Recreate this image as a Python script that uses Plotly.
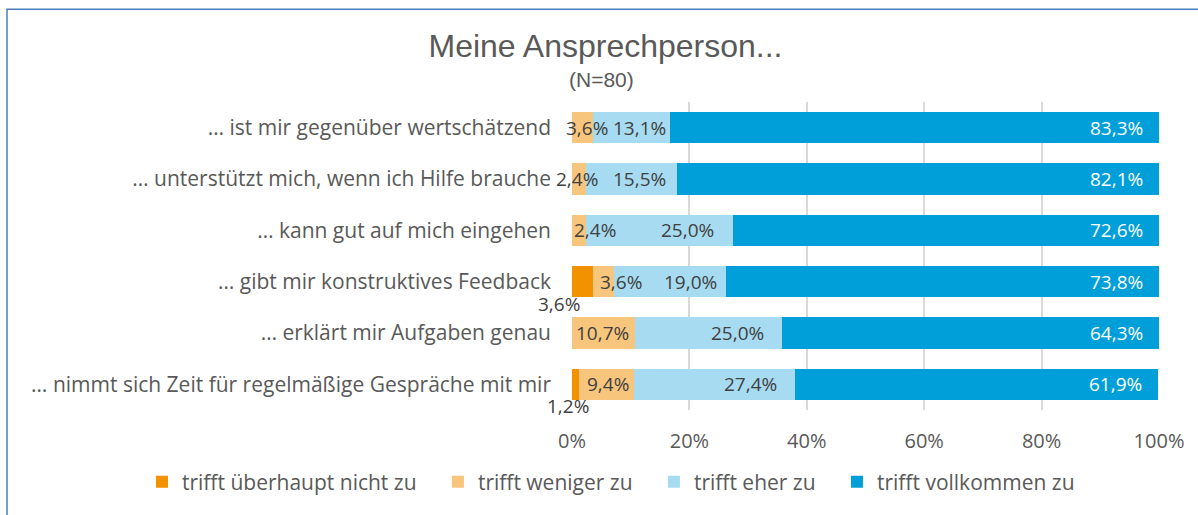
import numpy as np
import plotly.graph_objects as go

# ---------------- data ----------------
categories = [
    "… ist mir gegenüber wertschätzend",
    "… unterstützt mich, wenn ich Hilfe brauche",
    "… kann gut auf mich eingehen",
    "… gibt mir konstruktives Feedback",
    "… erklärt mir Aufgaben genau",
    "… nimmt sich Zeit für regelmäßige Gespräche mit mir",
]
series_names = [
    "trifft überhaupt nicht zu",
    "trifft weniger zu",
    "trifft eher zu",
    "trifft vollkommen zu",
]
ueberhaupt_nicht = [0.0, 0.0, 0.0, 3.6, 0.0, 1.2]
weniger = [3.6, 2.4, 2.4, 3.6, 10.7, 9.4]
eher = [13.1, 15.5, 25.0, 19.0, 25.0, 27.4]
vollkommen = [83.3, 82.1, 72.6, 73.8, 64.3, 61.9]
x_ticks = [0, 20, 40, 60, 80, 100]
x_tick_labels = ["0%", "20%", "40%", "60%", "80%", "100%"]
title_text = "Meine Ansprechperson..."
subtitle_text = "(N=80)"

# ---------------- style ----------------
colors = ["#F39200", "#F8C57C", "#A6DBF1", "#009FDA"]
font_family = "Open Sans"
label_gray = "#404040"
axis_gray = "#595959"
NBSP = "\u00a0"

# label pixel nudges (layout only)
weniger_dx = [4, -2, 16, 17, -1, 1]
eher_dx = [-2, -9, -17, -7, -16, -16]
nicht_dx = [0, 0, 0, -24, 0, -8]

series = [ueberhaupt_nicht, weniger, eher, vollkommen]

fig = go.Figure()
for k, (name, vals, col) in enumerate(zip(series_names, series, colors)):
    pad = NBSP * 3 if k < len(series_names) - 1 else ""
    fig.add_trace(go.Bar(
        y=categories, x=vals, name=name + pad, orientation="h",
        marker=dict(color=col, line=dict(width=0)),
        hoverinfo="skip",
    ))


def fmt(v):
    return f"{v:.1f}".replace(".", ",") + "%"


arr = np.array(series)
cum = np.cumsum(arr, axis=0)
starts = cum - arr
annotations = []
for i, cat in enumerate(categories):
    annotations.append(dict(x=cum[3, i], y=cat, xref="x", yref="y", text=fmt(arr[3, i]),
                            showarrow=False, xanchor="right", xshift=-14,
                            font=dict(family=font_family, size=19, color="white")))
    annotations.append(dict(x=cum[2, i], y=cat, xref="x", yref="y", text=fmt(arr[2, i]),
                            showarrow=False, xanchor="right", xshift=eher_dx[i],
                            font=dict(family=font_family, size=19, color=label_gray)))
    annotations.append(dict(x=(starts[1, i] + cum[1, i]) / 2, y=cat, xref="x", yref="y",
                            text=fmt(arr[1, i]), showarrow=False, xanchor="center",
                            xshift=weniger_dx[i],
                            font=dict(family=font_family, size=19, color=label_gray)))
    if arr[0, i] > 0:
        annotations.append(dict(x=(starts[0, i] + cum[0, i]) / 2, y=cat, xref="x", yref="y",
                                text=fmt(arr[0, i]), showarrow=False, xanchor="center",
                                xshift=nicht_dx[i], yshift=-22,
                                font=dict(family=font_family, size=19, color=label_gray)))

W, H = 1198, 515
ml, mr, mt, mb = 572, 39, 102, 101
pw, ph = W - ml - mr, H - mt - mb


def px_x(p):
    return (p - ml) / pw


def px_y(p):
    return (H - mb - p) / ph


annotations.append(dict(x=px_x(601), y=px_y(79), xref="paper", yref="paper",
                        text=subtitle_text, showarrow=False, xanchor="center", yanchor="middle",
                        font=dict(family="Liberation Sans, Arial", size=21, color=axis_gray)))

fig.update_layout(
    width=W, height=H,
    barmode="stack", bargap=0.385,
    margin=dict(l=ml, r=mr, t=mt, b=mb, pad=0),
    paper_bgcolor="white", plot_bgcolor="white",
    font=dict(family=font_family, color=axis_gray),
    title=dict(text=title_text, x=605.5 / W, xref="container", xanchor="center",
               y=1 - 46 / H, yref="container", yanchor="middle",
               font=dict(family="Liberation Sans, Arial", size=32, color=axis_gray)),
    xaxis=dict(range=[0, 100], tickmode="array", tickvals=x_ticks, ticktext=x_tick_labels,
               showgrid=True, gridcolor="#D9D9D9", gridwidth=2, zeroline=False,
               showline=False, ticks="", ticklabelstandoff=17,
               tickfont=dict(family=font_family, size=20, color=axis_gray)),
    yaxis=dict(autorange="reversed", showgrid=False, zeroline=False, showline=False,
               ticks="", ticklabelstandoff=20,
               tickfont=dict(family=font_family, size=21, color=axis_gray)),
    legend=dict(orientation="h", xref="paper", yref="paper",
                x=px_x(142), xanchor="left", y=px_y(487), yanchor="middle",
                font=dict(family=font_family, size=21, color=axis_gray),
                traceorder="normal", bgcolor="rgba(0,0,0,0)"),
    annotations=annotations,
    shapes=[dict(type="rect", xref="paper", yref="paper",
                 x0=px_x(7), x1=px_x(W + 10), y0=px_y(H + 10), y1=px_y(8),
                 line=dict(color="#4A7EBB", width=1.5), fillcolor="rgba(0,0,0,0)",
                 layer="below")],
)

fig.write_html("out.html", config={"displayModeBar": False},
               post_script="document.body.style.margin='0';")
